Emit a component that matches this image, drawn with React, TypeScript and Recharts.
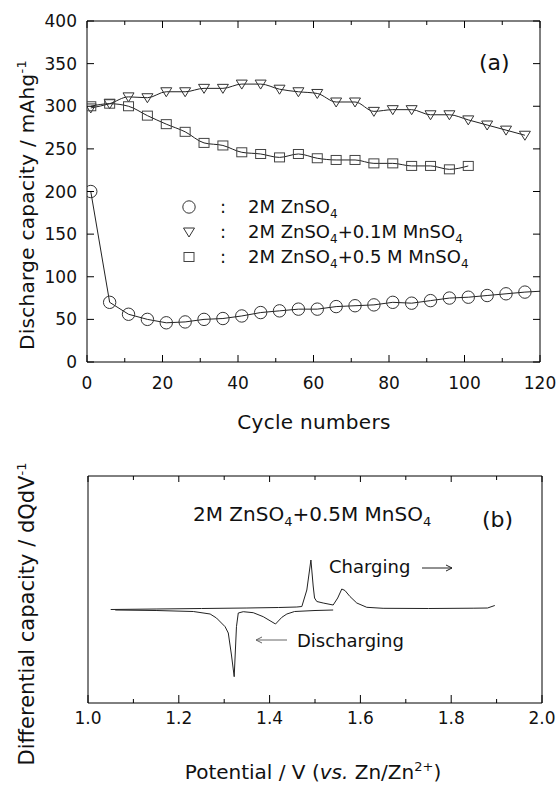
import React from 'react';
import { LineChart, Line, XAxis, YAxis } from 'recharts';

// ---------- Panel (a) data ----------
const cycles = [1, 6, 11, 16, 21, 26, 31, 36, 41, 46, 51, 56, 61, 66, 71, 76, 81, 86, 91, 96, 101, 106, 111, 116];
const capZnSO4 = [200, 70, 56, 50, 46, 47, 50, 51, 54, 58, 60, 62, 62, 65, 66, 67, 70, 69, 72, 75, 76, 78, 80, 82];
const capMn01 = [298, 303, 311, 310, 317, 317, 321, 321, 326, 326, 320, 317, 315, 305, 305, 294, 296, 296, 290, 290, 284, 278, 272, 266];
const capMn05 = [300, 303, 300, 289, 279, 270, 257, 254, 246, 244, 240, 244, 239, 237, 237, 233, 233, 230, 230, 226, 230];
const znTailCycles = [116, 120];
const znTailValues = [82, 83];
const xTicksA = [0, 10, 20, 30, 40, 50, 60, 70, 80, 90, 100, 110, 120];
const yTicksA = [0, 50, 100, 150, 200, 250, 300, 350, 400];

// ---------- Panel (b) data ----------
const chargeV = [1.05, 1.15, 1.25, 1.35, 1.42, 1.46, 1.471, 1.482, 1.491, 1.496, 1.499, 1.504, 1.518, 1.54, 1.55, 1.559, 1.566, 1.577, 1.592, 1.614, 1.65, 1.75, 1.85, 1.88, 1.896];
const chargeQ = [0.5, 1, 1.5, 2, 2.5, 3, 3.5, 20, 50, 24, 12, 8.5, 7, 5, 12, 21, 19.5, 13.5, 7, 2.7, 1.7, 1.5, 1.8, 2, 4.5];
const dischargeV = [1.06, 1.15, 1.232, 1.269, 1.283, 1.302, 1.309, 1.316, 1.322, 1.327, 1.331, 1.342, 1.364, 1.386, 1.413, 1.427, 1.438, 1.455, 1.5, 1.54];
const dischargeQ = [0, -0.5, -1.5, -4, -8, -16.7, -23, -45, -66.7, -16.7, -3, -1.7, -2.7, -6.7, -14, -7.3, -4, -1.5, -0.5, 0];
const xTicksB = [1.0, 1.1, 1.2, 1.3, 1.4, 1.5, 1.6, 1.7, 1.8, 1.9, 2.0];

const FONT = '"DejaVu Sans", sans-serif';
const INK = '#111';

const dataA = cycles.map((c, i) => ({
  cycle: c,
  zn: capZnSO4[i],
  mn01: capMn01[i],
  mn05: i < capMn05.length ? capMn05[i] : null,
}));
const tailA = znTailCycles.map((c, i) => ({ cycle: c, zn: znTailValues[i] }));
const chargeData = chargeV.map((v, i) => ({ v, q: chargeQ[i] }));
const dischargeData = dischargeV.map((v, i) => ({ v, q: dischargeQ[i] }));

// ---------- markers ----------
const CircleDot = (p: any) => {
  if (p.cx == null || p.cy == null || p.value == null) return <g key={p.key} />;
  return <circle key={p.key} cx={p.cx} cy={p.cy} r={6.2} fill="none" stroke="#333" strokeWidth={1} />;
};
const TriDot = (p: any) => {
  if (p.cx == null || p.cy == null || p.value == null) return <g key={p.key} />;
  const { cx, cy } = p;
  return (
    <polygon key={p.key} points={`${cx - 5.5},${cy - 4} ${cx + 5.5},${cy - 4} ${cx},${cy + 5}`} fill="none" stroke="#333" strokeWidth={1} />
  );
};
const SqDot = (p: any) => {
  if (p.cx == null || p.cy == null || p.value == null) return <g key={p.key} />;
  return <rect key={p.key} x={p.cx - 5} y={p.cy - 4.5} width={10} height={9} fill="none" stroke="#444" strokeWidth={1} />;
};

// ---------- ticks ----------
const BottomTickA = (p: any) => {
  const v = p.payload.value;
  const major = v % 20 === 0;
  return (
    <g>
      <line x1={p.x} y1={p.y} x2={p.x} y2={p.y - (major ? 7 : 4)} stroke="#000" />
      {major && (
        <text x={p.x} y={p.y + 27} textAnchor="middle" fontSize={17} fontFamily={FONT} fill={INK}>
          {v}
        </text>
      )}
    </g>
  );
};
const TopTickA = (p: any) => {
  const v = p.payload.value;
  const major = v % 20 === 0;
  return <line x1={p.x} y1={p.y} x2={p.x} y2={p.y + (major ? 7 : 4)} stroke="#000" />;
};
const LeftTickA = (p: any) => (
  <g>
    <line x1={p.x} y1={p.y} x2={p.x + 7} y2={p.y} stroke="#000" />
    <text x={p.x - 10} y={p.y + 6} textAnchor="end" fontSize={17} fontFamily={FONT} fill={INK}>
      {p.payload.value}
    </text>
  </g>
);
const RightTickA = (p: any) => <line x1={p.x} y1={p.y} x2={p.x - 7} y2={p.y} stroke="#000" />;

const isMajorB = (v: number) => Math.round(v * 10) % 2 === 0;
const BottomTickB = (p: any) => {
  const v = p.payload.value;
  const major = isMajorB(v);
  return (
    <g>
      <line x1={p.x} y1={p.y} x2={p.x} y2={p.y - (major ? 8 : 4)} stroke="#000" />
      {major && (
        <text x={p.x} y={p.y + 21} textAnchor="middle" fontSize={17} fontFamily={FONT} fill={INK}>
          {v.toFixed(1)}
        </text>
      )}
    </g>
  );
};
const TopTickB = (p: any) => {
  const v = p.payload.value;
  return <line x1={p.x} y1={p.y} x2={p.x} y2={p.y + (isMajorB(v) ? 6 : 4)} stroke="#000" />;
};

const axisLine = { stroke: '#000', strokeWidth: 1 };

export default function App() {
  return (
    <div style={{ position: 'absolute', left: 0, top: 0, width: 559, height: 788, background: '#fff', fontFamily: FONT }}>
      {/* Panel (a) */}
      <div style={{ position: 'absolute', left: 0, top: 0 }}>
        <LineChart width={559} height={440} data={dataA} margin={{ top: 20, right: 18, bottom: 0, left: 0 }}>
          <XAxis xAxisId="b" dataKey="cycle" type="number" domain={[0, 120]} ticks={xTicksA} interval={0}
            height={78} tickSize={0} tickMargin={0} tickLine={false} axisLine={axisLine} tick={<BottomTickA />} allowDataOverflow />
          <XAxis xAxisId="t" orientation="top" dataKey="cycle" type="number" domain={[0, 120]} ticks={xTicksA} interval={0}
            height={1} tickSize={0} tickMargin={0} tickLine={false} axisLine={axisLine} tick={<TopTickA />} allowDataOverflow />
          <YAxis yAxisId="l" type="number" domain={[0, 400]} ticks={yTicksA} interval={0} width={87}
            tickSize={0} tickMargin={0} tickLine={false} axisLine={axisLine} tick={<LeftTickA />} allowDataOverflow />
          <YAxis yAxisId="r" orientation="right" type="number" domain={[0, 400]} ticks={yTicksA} interval={0} width={1}
            tickSize={0} tickMargin={0} tickLine={false} axisLine={axisLine} tick={<RightTickA />} allowDataOverflow />
          <Line xAxisId="b" yAxisId="l" dataKey="zn" type="linear" stroke="#222" strokeWidth={1} dot={CircleDot} activeDot={false} isAnimationActive={false} />
          <Line xAxisId="b" yAxisId="l" data={tailA} dataKey="zn" type="linear" stroke="#222" strokeWidth={1} dot={false} activeDot={false} isAnimationActive={false} />
          <Line xAxisId="b" yAxisId="l" dataKey="mn01" type="monotone" stroke="#222" strokeWidth={1} dot={TriDot} activeDot={false} isAnimationActive={false} />
          <Line xAxisId="b" yAxisId="l" dataKey="mn05" type="monotone" stroke="#222" strokeWidth={1} dot={SqDot} activeDot={false} isAnimationActive={false} />
        </LineChart>
      </div>

      {/* Panel (b) */}
      <div style={{ position: 'absolute', left: 0, top: 440 }}>
        <LineChart width={559} height={348} margin={{ top: 35, right: 16, bottom: 0, left: 0 }}>
          <XAxis xAxisId="b" dataKey="v" type="number" domain={[1, 2]} ticks={xTicksB} interval={0}
            height={85} tickSize={0} tickMargin={0} tickLine={false} axisLine={axisLine} tick={<BottomTickB />} allowDataOverflow />
          <XAxis xAxisId="t" orientation="top" dataKey="v" type="number" domain={[1, 2]} ticks={xTicksB} interval={0}
            height={1} tickSize={0} tickMargin={0} tickLine={false} axisLine={axisLine} tick={<TopTickB />} allowDataOverflow />
          <YAxis yAxisId="l" type="number" domain={[-93, 134]} width={88} tick={false} tickLine={false} axisLine={axisLine} allowDataOverflow />
          <YAxis yAxisId="r" orientation="right" type="number" domain={[-93, 134]} width={1} tick={false} tickLine={false} axisLine={axisLine} allowDataOverflow />
          <Line xAxisId="b" yAxisId="l" data={chargeData} dataKey="q" type="linear" stroke="#222" strokeWidth={1} dot={false} activeDot={false} isAnimationActive={false} />
          <Line xAxisId="b" yAxisId="l" data={dischargeData} dataKey="q" type="linear" stroke="#222" strokeWidth={1} dot={false} activeDot={false} isAnimationActive={false} />
        </LineChart>
      </div>

      {/* Annotations, titles and legend */}
      <svg width={559} height={788} style={{ position: 'absolute', left: 0, top: 0, pointerEvents: 'none' }}>
        <g fontFamily={FONT} fill={INK}>
          {/* Panel (a) */}
          <text transform="translate(34,205) rotate(-90)" textAnchor="middle" fontSize={20} letterSpacing={0.3}>
            Discharge capacity / mAhg<tspan dy={-8} fontSize={13}>-1</tspan>
          </text>
          <text x={314} y={429} textAnchor="middle" fontSize={20} letterSpacing={0.3}>Cycle numbers</text>
          <text x={479} y={70} fontSize={22}>(a)</text>

          <circle cx={189} cy={207} r={6.2} fill="none" stroke="#333" />
          <polygon points={`${183.5},${228} ${194.5},${228} ${189},${237}`} fill="none" stroke="#333" />
          <rect x={184} y={252.5} width={10} height={9} fill="none" stroke="#444" />
          <text x={220} y={213} fontSize={18}>:</text>
          <text x={220} y={238} fontSize={18}>:</text>
          <text x={220} y={263} fontSize={18}>:</text>
          <text x={248} y={213} fontSize={18}>
            2M ZnSO<tspan dy={5} fontSize={12}>4</tspan>
          </text>
          <text x={248} y={238} fontSize={18}>
            2M ZnSO<tspan dy={5} fontSize={12}>4</tspan><tspan dy={-5}>+0.1M MnSO</tspan><tspan dy={5} fontSize={12}>4</tspan>
          </text>
          <text x={248} y={263} fontSize={18}>
            2M ZnSO<tspan dy={5} fontSize={12}>4</tspan><tspan dy={-5}>+0.5 M MnSO</tspan><tspan dy={5} fontSize={12}>4</tspan>
          </text>

          {/* Panel (b) */}
          <text transform="translate(34,614) rotate(-90)" textAnchor="middle" fontSize={21}>
            Differential capacity / dQdV<tspan dy={-8} fontSize={13}>-1</tspan>
          </text>
          <text x={313} y={779} textAnchor="middle" fontSize={20}>
            Potential / V (<tspan fontStyle="italic">vs.</tspan> Zn/Zn<tspan dy={-8} fontSize={13}>2+</tspan><tspan dy={8}>)</tspan>
          </text>
          <text x={193} y={521} fontSize={20}>
            2M ZnSO<tspan dy={5} fontSize={13}>4</tspan><tspan dy={-5}>+0.5M MnSO</tspan><tspan dy={5} fontSize={13}>4</tspan>
          </text>
          <text x={482} y={527} fontSize={22}>(b)</text>
          <text x={329} y={573} fontSize={18}>Charging</text>
          <line x1={422} y1={568} x2={452} y2={568} stroke="#222" />
          <polyline points="446,565 452,568 446,571" fill="none" stroke="#222" />
          <text x={297} y={647} fontSize={18}>Discharging</text>
          <line x1={256} y1={640} x2={287} y2={640} stroke="#666" />
          <polyline points="262,637 256,640 262,643" fill="none" stroke="#666" />
        </g>
      </svg>
    </div>
  );
}
